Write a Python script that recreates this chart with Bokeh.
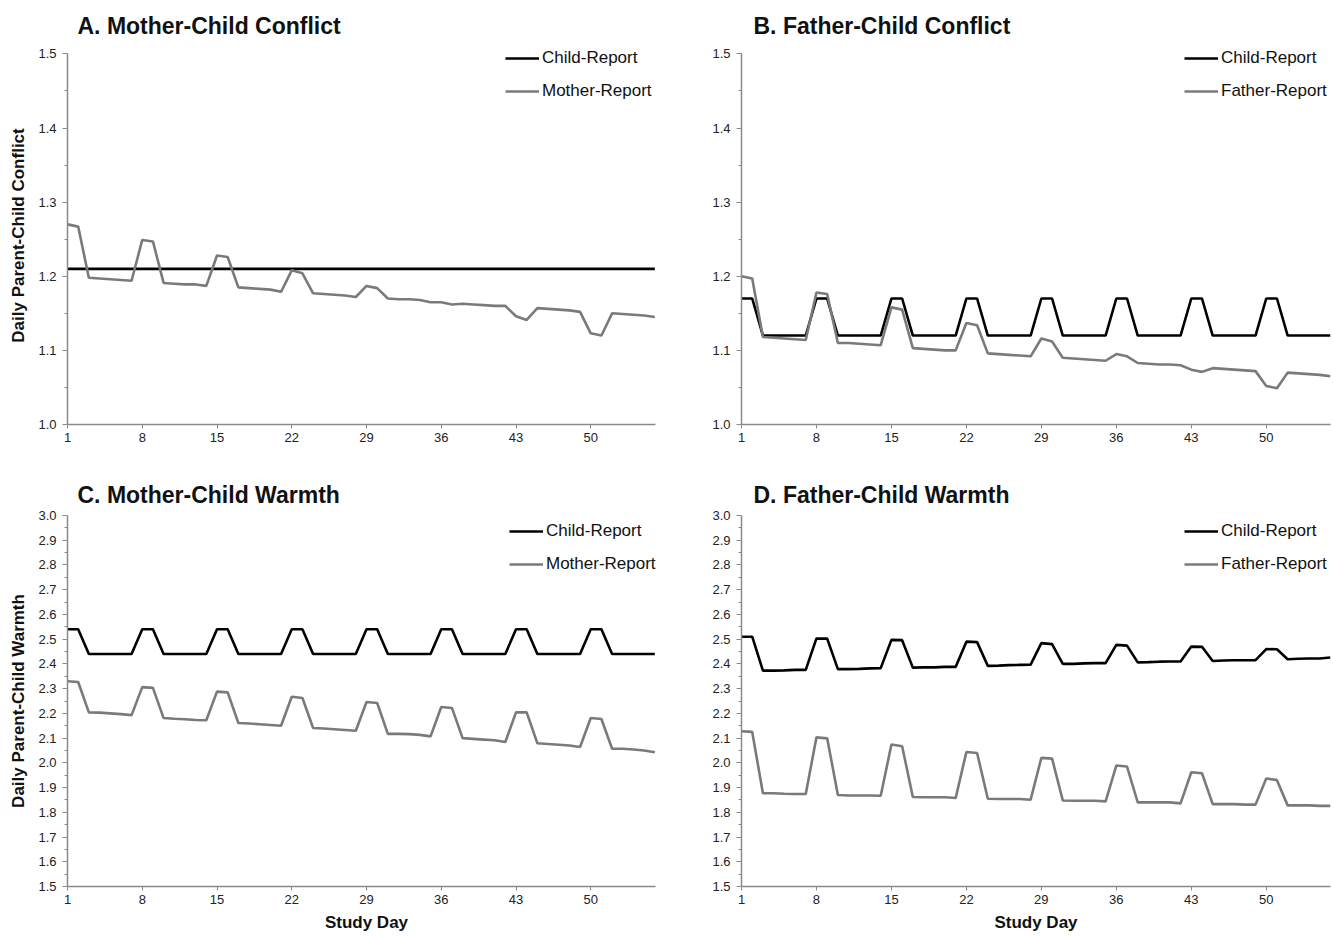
from bokeh.plotting import figure
from bokeh.models import Range1d, FixedTicker, PrintfTickFormatter, Legend, LegendItem
from bokeh.layouts import column, row
from bokeh.embed import file_html
from bokeh.resources import INLINE

days = list(range(1, 57))
x_ticks = [1, 8, 15, 22, 29, 36, 43, 50]

conflict_ticks = [1.0, 1.1, 1.2, 1.3, 1.4, 1.5]
conflict_minor = [1.05, 1.15, 1.25, 1.35, 1.45]
warmth_ticks = [1.5, 1.6, 1.7, 1.8, 1.9, 2.0, 2.1, 2.2, 2.3, 2.4, 2.5, 2.6, 2.7, 2.8, 2.9, 3.0]
warmth_minor = [1.55, 1.65, 1.75, 1.85, 1.95, 2.05, 2.15, 2.25, 2.35, 2.45, 2.55, 2.65, 2.75, 2.85, 2.95]

a_child = [1.21, 1.21, 1.21, 1.21, 1.21, 1.21, 1.21,
           1.21, 1.21, 1.21, 1.21, 1.21, 1.21, 1.21,
           1.21, 1.21, 1.21, 1.21, 1.21, 1.21, 1.21,
           1.21, 1.21, 1.21, 1.21, 1.21, 1.21, 1.21,
           1.21, 1.21, 1.21, 1.21, 1.21, 1.21, 1.21,
           1.21, 1.21, 1.21, 1.21, 1.21, 1.21, 1.21,
           1.21, 1.21, 1.21, 1.21, 1.21, 1.21, 1.21,
           1.21, 1.21, 1.21, 1.21, 1.21, 1.21, 1.21]
a_mother = [1.270, 1.267, 1.198, 1.197, 1.196, 1.195, 1.194,
            1.249, 1.247, 1.191, 1.190, 1.189, 1.189, 1.187,
            1.228, 1.226, 1.185, 1.184, 1.183, 1.182, 1.179,
            1.208, 1.204, 1.177, 1.176, 1.175, 1.174, 1.172,
            1.187, 1.184, 1.170, 1.169, 1.169, 1.168, 1.165,
            1.165, 1.162, 1.163, 1.162, 1.161, 1.160, 1.160,
            1.146, 1.141, 1.157, 1.156, 1.155, 1.154, 1.152,
            1.123, 1.120, 1.150, 1.149, 1.148, 1.147, 1.145]

b_child = [1.17, 1.17, 1.12, 1.12, 1.12, 1.12, 1.12,
           1.17, 1.17, 1.12, 1.12, 1.12, 1.12, 1.12,
           1.17, 1.17, 1.12, 1.12, 1.12, 1.12, 1.12,
           1.17, 1.17, 1.12, 1.12, 1.12, 1.12, 1.12,
           1.17, 1.17, 1.12, 1.12, 1.12, 1.12, 1.12,
           1.17, 1.17, 1.12, 1.12, 1.12, 1.12, 1.12,
           1.17, 1.17, 1.12, 1.12, 1.12, 1.12, 1.12,
           1.17, 1.17, 1.12, 1.12, 1.12, 1.12, 1.12]
b_father = [1.200, 1.197, 1.118, 1.117, 1.116, 1.115, 1.114,
            1.178, 1.176, 1.110, 1.110, 1.109, 1.108, 1.107,
            1.158, 1.155, 1.103, 1.102, 1.101, 1.100, 1.100,
            1.137, 1.134, 1.096, 1.095, 1.094, 1.093, 1.092,
            1.116, 1.112, 1.090, 1.089, 1.088, 1.087, 1.086,
            1.095, 1.092, 1.083, 1.082, 1.081, 1.081, 1.080,
            1.074, 1.071, 1.076, 1.075, 1.074, 1.073, 1.072,
            1.052, 1.049, 1.070, 1.069, 1.068, 1.067, 1.065]

c_child = [2.54, 2.54, 2.44, 2.44, 2.44, 2.44, 2.44,
           2.54, 2.54, 2.44, 2.44, 2.44, 2.44, 2.44,
           2.54, 2.54, 2.44, 2.44, 2.44, 2.44, 2.44,
           2.54, 2.54, 2.44, 2.44, 2.44, 2.44, 2.44,
           2.54, 2.54, 2.44, 2.44, 2.44, 2.44, 2.44,
           2.54, 2.54, 2.44, 2.44, 2.44, 2.44, 2.44,
           2.54, 2.54, 2.44, 2.44, 2.44, 2.44, 2.44,
           2.54, 2.54, 2.44, 2.44, 2.44, 2.44, 2.44]
c_mother = [2.330, 2.327, 2.204, 2.203, 2.200, 2.197, 2.193,
            2.306, 2.303, 2.181, 2.178, 2.176, 2.173, 2.172,
            2.288, 2.285, 2.161, 2.159, 2.156, 2.153, 2.150,
            2.267, 2.262, 2.141, 2.139, 2.136, 2.133, 2.130,
            2.246, 2.242, 2.117, 2.117, 2.116, 2.113, 2.107,
            2.226, 2.222, 2.100, 2.097, 2.094, 2.091, 2.084,
            2.204, 2.204, 2.079, 2.076, 2.073, 2.070, 2.064,
            2.181, 2.177, 2.057, 2.057, 2.054, 2.050, 2.043]

d_child = [2.510, 2.510, 2.373, 2.373, 2.374, 2.376, 2.376,
           2.503, 2.502, 2.379, 2.379, 2.380, 2.382, 2.383,
           2.497, 2.496, 2.385, 2.386, 2.386, 2.388, 2.388,
           2.490, 2.488, 2.392, 2.393, 2.395, 2.396, 2.397,
           2.484, 2.480, 2.400, 2.400, 2.402, 2.403, 2.403,
           2.477, 2.474, 2.406, 2.407, 2.409, 2.410, 2.410,
           2.470, 2.469, 2.412, 2.414, 2.415, 2.415, 2.415,
           2.460, 2.459, 2.419, 2.421, 2.422, 2.422, 2.426]
d_father = [2.128, 2.125, 1.877, 1.877, 1.875, 1.874, 1.874,
            2.103, 2.099, 1.870, 1.868, 1.868, 1.868, 1.867,
            2.074, 2.067, 1.862, 1.861, 1.861, 1.861, 1.858,
            2.044, 2.040, 1.855, 1.854, 1.854, 1.854, 1.851,
            2.020, 2.017, 1.848, 1.847, 1.847, 1.847, 1.844,
            1.989, 1.985, 1.840, 1.840, 1.840, 1.840, 1.836,
            1.962, 1.958, 1.833, 1.833, 1.833, 1.831, 1.831,
            1.937, 1.930, 1.828, 1.828, 1.828, 1.826, 1.826]

FONT = "Liberation Sans"
AXIS_GRAY = "#8a8a8a"
PARENT_GRAY = "#7a7a7a"


def panel(title, child, parent, parent_name, yr, ybounds, yt, ym, xr, xbounds,
          width, height, bl, br, bt, bb, ylabel=None, xlabel=None,
          title_offset=0, title_standoff=10, leg_x=440, leg_y=325):
    p = figure(width=width, height=height, output_backend="svg",
               toolbar_location=None, title=title,
               x_range=Range1d(*xr), y_range=Range1d(*yr),
               min_border_left=bl, min_border_right=br,
               min_border_top=bt, min_border_bottom=bb)
    p.title.align = "left"
    p.title.offset = title_offset
    p.title.standoff = title_standoff
    p.title.text_font = FONT
    p.title.text_font_size = "23px"
    p.title.text_font_style = "bold"
    p.title.text_color = "#111111"
    p.outline_line_color = None
    p.xgrid.visible = False
    p.ygrid.visible = False

    r1 = p.line(days, child, line_color="#000000", line_width=2.6)
    r2 = p.line(days, parent, line_color=PARENT_GRAY, line_width=2.6)

    xa = p.xaxis[0]
    xa.bounds = xbounds
    xa.ticker = FixedTicker(ticks=x_ticks)
    xa.axis_line_color = AXIS_GRAY
    xa.axis_line_width = 1.5
    xa.major_tick_line_color = AXIS_GRAY
    xa.major_tick_in = 0
    xa.major_tick_out = 4
    xa.minor_tick_line_color = None
    xa.major_label_text_font = FONT
    xa.major_label_text_font_size = "13px"
    xa.major_label_text_color = "#222222"
    xa.major_label_standoff = 4
    if xlabel:
        xa.axis_label = xlabel
        xa.axis_label_text_font = FONT
        xa.axis_label_text_font_size = "17px"
        xa.axis_label_text_font_style = "bold"
        xa.axis_label_text_color = "#111111"
        xa.axis_label_standoff = 6

    ya = p.yaxis[0]
    ya.bounds = ybounds
    ya.ticker = FixedTicker(ticks=yt, minor_ticks=ym)
    ya.formatter = PrintfTickFormatter(format="%.1f")
    ya.axis_line_color = AXIS_GRAY
    ya.axis_line_width = 1.5
    ya.major_tick_line_color = AXIS_GRAY
    ya.major_tick_in = 0
    ya.major_tick_out = 5
    ya.minor_tick_line_color = AXIS_GRAY
    ya.minor_tick_in = 0
    ya.minor_tick_out = 3
    ya.major_label_text_font = FONT
    ya.major_label_text_font_size = "13px"
    ya.major_label_text_color = "#222222"
    ya.major_label_standoff = 6
    if ylabel:
        ya.axis_label = ylabel
        ya.axis_label_text_font = FONT
        ya.axis_label_text_font_size = "17px"
        ya.axis_label_text_font_style = "bold"
        ya.axis_label_text_color = "#111111"
        ya.axis_label_standoff = 7

    leg = Legend(items=[LegendItem(label="Child-Report", renderers=[r1]),
                        LegendItem(label=parent_name, renderers=[r2])],
                 location=(leg_x, leg_y))
    leg.border_line_color = None
    leg.background_fill_alpha = 0
    leg.padding = 0
    leg.margin = 0
    leg.spacing = 13
    leg.glyph_width = 34
    leg.glyph_height = 20
    leg.label_height = 20
    leg.label_standoff = 3
    leg.label_text_font = FONT
    leg.label_text_font_size = "17px"
    leg.label_text_color = "#111111"
    p.add_layout(leg)
    return p


pA = panel("A. Mother-Child Conflict", a_child, a_mother, "Mother-Report",
           (1.0, 1.51), (1.0, 1.5), conflict_ticks, conflict_minor,
           (1, 57), (1, 56.1),
           681, 449, 67, 16, 46, 25, ylabel="Daily Parent-Child Conflict",
           title_offset=10, title_standoff=16, leg_x=438, leg_y=323)
pB = panel("B. Father-Child Conflict", b_child, b_father, "Father-Report",
           (1.0, 1.51), (1.0, 1.5), conflict_ticks, conflict_minor,
           (1, 56), (1, 56),
           651, 449, 60, 2, 46, 25,
           title_offset=12, title_standoff=16, leg_x=443, leg_y=323)
pC = panel("C. Mother-Child Warmth", c_child, c_mother, "Mother-Report",
           (1.5, 3.0), (1.5, 3.0), warmth_ticks, warmth_minor,
           (1, 57), (1, 56.1),
           681, 485, 67, 16, 66, 48, ylabel="Daily Parent-Child Warmth",
           xlabel="Study Day", title_offset=10, title_standoff=16,
           leg_x=442, leg_y=312)
pD = panel("D. Father-Child Warmth", d_child, d_father, "Father-Report",
           (1.5, 3.0), (1.5, 3.0), warmth_ticks, warmth_minor,
           (1, 56), (1, 56),
           651, 485, 60, 2, 66, 48, xlabel="Study Day",
           title_offset=12, title_standoff=16, leg_x=443, leg_y=312)

layout = column(row(pA, pB), row(pC, pD))
open("out.html", "w").write(file_html(layout, INLINE))
